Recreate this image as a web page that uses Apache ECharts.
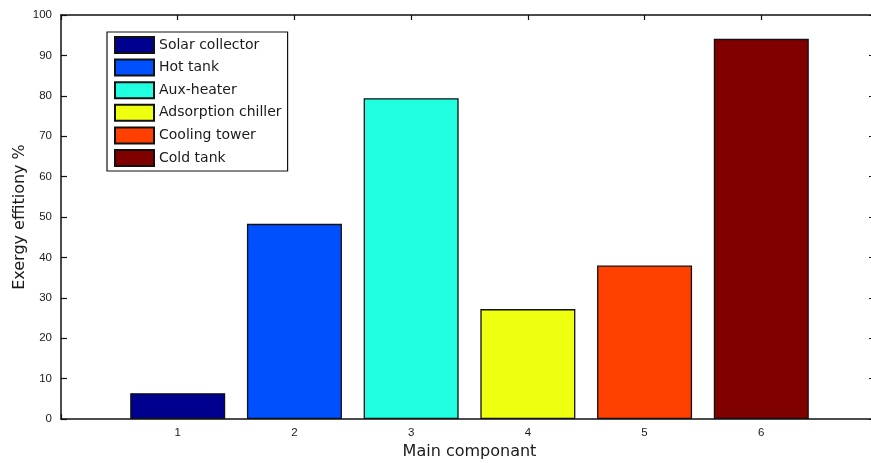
<!DOCTYPE html>
<html>
<head>
<meta charset="utf-8">
<script src="https://cdn.jsdelivr.net/npm/echarts@6/dist/echarts.min.js"></script>
<style>
html,body{margin:0;padding:0;overflow:hidden;background:#fff;}
#chart{width:871px;height:463px;}
</style>
</head>
<body>
<div id="chart"></div>
<script>
// ---- data ----
var categories = ['0', '1', '2', '3', '4', '5', '6', '7'];
var componentNames = ['Solar collector', 'Hot tank', 'Aux-heater', 'Adsorption chiller', 'Cooling tower', 'Cold tank'];
var componentIndex = [1, 2, 3, 4, 5, 6];
var efficiencyValues = [6.4, 48.3, 79.4, 27.2, 38.0, 94.1];
var barColors = ['#00008F', '#0050FF', '#20FFDF', '#EFFF10', '#FF4000', '#800000'];
var yTicks = [0, 10, 20, 30, 40, 50, 60, 70, 80, 90, 100];

var textColor = '#1a1a1a';
var fontFamily = '"Liberation Sans", Arial, sans-serif';
var wideFont = '"DejaVu Sans", "Liberation Sans", sans-serif';

var series = componentNames.map(function (name, i) {
  var data = categories.map(function () { return '-'; });
  data[componentIndex[i]] = efficiencyValues[i];
  return {
    name: name,
    type: 'bar',
    stack: 'all',
    barWidth: 95,
    data: data,
    itemStyle: { color: barColors[i], borderColor: '#111', borderWidth: 1.3 },
    emphasis: { disabled: true }
  };
});

var chart = echarts.init(document.getElementById('chart'), null, { renderer: 'canvas' });
chart.setOption({
  animation: false,
  backgroundColor: '#fff',
  grid: { left: 61, right: -7, top: 15, bottom: 44, containLabel: false, outerBoundsMode: 'none' },
  legend: {
    orient: 'vertical',
    left: 107,
    top: 32,
    padding: [4, 6, 4, 7],
    itemWidth: 39,
    itemHeight: 16,
    itemGap: 4.6,
    backgroundColor: '#fff',
    borderColor: '#111',
    borderWidth: 1.2,
    icon: 'rect',
    textStyle: { color: textColor, fontSize: 14, fontFamily: wideFont },
    data: componentNames
  },
  xAxis: [{
    type: 'category',
    data: categories,
    boundaryGap: false,
    name: 'Main componant',
    nameLocation: 'middle',
    nameGap: 25,
    nameMoveOverlap: false,
    nameTextStyle: { color: textColor, fontSize: 16, fontFamily: wideFont },
    axisLine: { onZero: false, lineStyle: { color: '#111', width: 1.5 } },
    axisTick: { inside: true, length: 5, lineStyle: { color: '#111', width: 1.2 } },
    axisLabel: {
      color: textColor, fontSize: 11.5, fontFamily: fontFamily, margin: 8,
      formatter: function (v) { return (v === '0' || v === '7') ? '' : v; }
    }
  }, {
    type: 'category',
    data: categories,
    boundaryGap: false,
    position: 'top',
    axisLine: { onZero: false, lineStyle: { color: '#111', width: 1.5 } },
    axisTick: { inside: true, length: 5, lineStyle: { color: '#111', width: 1.2 } },
    axisLabel: { show: false }
  }],
  yAxis: [{
    type: 'value',
    min: 0,
    max: 100,
    interval: 10,
    name: 'Exergy effitiony %',
    nameLocation: 'middle',
    nameGap: 33,
    nameMoveOverlap: false,
    nameTextStyle: { color: textColor, fontSize: 16, fontFamily: wideFont },
    axisLine: { show: true, onZero: false, lineStyle: { color: '#111', width: 1.5 } },
    axisTick: { show: true, inside: true, length: 6, lineStyle: { color: '#111', width: 1.2 } },
    axisLabel: {
      color: textColor, fontSize: 11.5, fontFamily: fontFamily, margin: 9,
      formatter: function (v) { return yTicks.indexOf(v) >= 0 ? String(v) : ''; }
    },
    splitLine: { show: false }
  }, {
    type: 'value',
    min: 0,
    max: 100,
    interval: 10,
    position: 'right',
    axisLine: { show: true, onZero: false, lineStyle: { color: '#111', width: 1.5 } },
    axisTick: { show: true, inside: true, length: 9, lineStyle: { color: '#111', width: 1.2 } },
    axisLabel: { show: false },
    splitLine: { show: false }
  }],
  series: series
});
</script>
</body>
</html>
